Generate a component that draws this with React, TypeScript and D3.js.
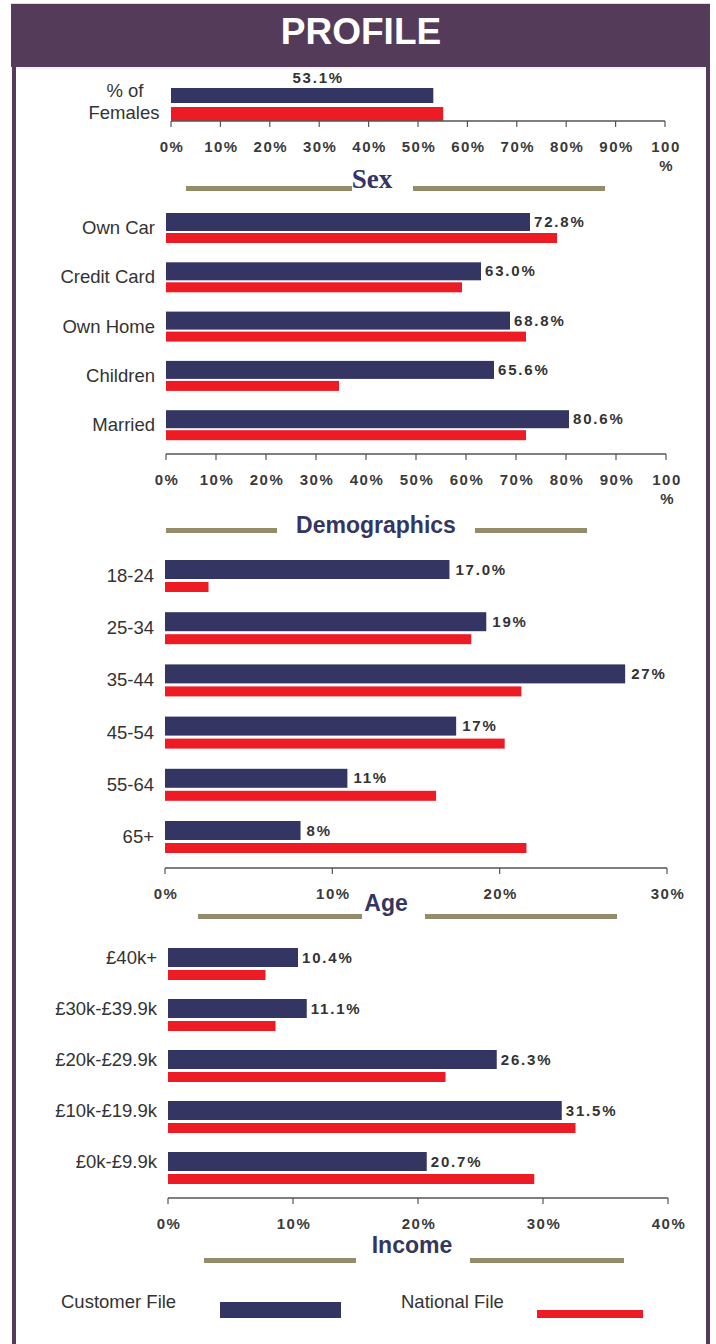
import React from 'react'
import * as d3 from 'd3'

const W = 716
const H = 1344
const navy = '#343563'
const red = '#ed1c24'
const plum = '#553b5a'
const khaki = '#948c6a'
const ink = '#333333'

// chart values
const sexCats = ['% of Females']
const sexCustomer = [53.1]
const sexNational = [55.1]
const sexLabels = ['53.1%']

const demoCats = ['Own Car', 'Credit Card', 'Own Home', 'Children', 'Married']
const demoCustomer = [72.8, 63.0, 68.8, 65.6, 80.6]
const demoNational = [78.2, 59.2, 72.0, 34.6, 72.0]
const demoLabels = ['72.8%', '63.0%', '68.8%', '65.6%', '80.6%']

const ageCats = ['18-24', '25-34', '35-44', '45-54', '55-64', '65+']
const ageCustomer = [17.0, 19.2, 27.5, 17.4, 10.9, 8.1]
const ageNational = [2.6, 18.3, 21.3, 20.3, 16.2, 21.6]
const ageLabels = ['17.0%', '19%', '27%', '17%', '11%', '8%']

const incomeCats = ['£40k+', '£30k-£39.9k', '£20k-£29.9k', '£10k-£19.9k', '£0k-£9.9k']
const incomeCustomer = [10.4, 11.1, 26.3, 31.5, 20.7]
const incomeNational = [7.8, 8.6, 22.2, 32.6, 29.3]
const incomeLabels = ['10.4%', '11.1%', '26.3%', '31.5%', '20.7%']

const pctTicks = [0, 10, 20, 30, 40, 50, 60, 70, 80, 90, 100]
const ageTicks = [0, 10, 20, 30]
const incomeTicks = [0, 10, 20, 30, 40]

const sans = 'Liberation Sans, Arial, sans-serif'

type ChartProps = {
  cats: string[]
  cust: number[]
  nat: number[]
  labels: string[]
  ticks: number[]
  x0: number
  x1: number
  top: number
  step: number
  blueH: number
  redH: number
  gap: number
  axisY: number
  labelMode: 'group' | 'blue'
  valueDx: number
}

const Axis = ({ x, y, ticks }: { x: d3.ScaleLinear<number, number>; y: number; ticks: number[] }) => (
  <g>
    <line x1={x.range()[0]} x2={x.range()[1]} y1={y} y2={y} stroke="#555" strokeWidth={1.3} />
    {ticks.map(t => (
      <g key={t} transform={`translate(${x(t)},${y})`}>
        <line y1={0} y2={6} stroke="#555" strokeWidth={1.2} />
        {t === 100 ? (
          <>
            <text y={31} textAnchor="middle" dx={1} fontFamily={sans} fontWeight="bold" fontSize={15} letterSpacing={1.5} fill="#3a3a3a">100</text>
            <text y={50} textAnchor="middle" dx={1} fontFamily={sans} fontWeight="bold" fontSize={15} fill="#3a3a3a">%</text>
          </>
        ) : (
          <text y={31} textAnchor="middle" dx={1} fontFamily={sans} fontWeight="bold" fontSize={15} letterSpacing={1.5} fill="#3a3a3a">{t + '%'}</text>
        )}
      </g>
    ))}
  </g>
)

const BarChart = (p: ChartProps) => {
  const max = p.ticks[p.ticks.length - 1]
  const x = d3.scaleLinear().domain([0, max]).range([p.x0, p.x1])
  const y = d3.scaleBand<string>().domain(p.cats).range([p.top, p.top + p.step * p.cats.length]).padding(0)
  return (
    <g>
      {p.cats.map((c, i) => {
        const by = y(c) as number
        const ry = by + p.blueH + p.gap
        const ly = p.labelMode === 'group' ? (by + ry + p.redH) / 2 : by + p.blueH / 2
        return (
          <g key={c}>
            <rect x={x(0)} y={by} width={x(p.cust[i]) - x(0)} height={p.blueH} fill={navy} />
            <rect x={x(0)} y={ry} width={x(p.nat[i]) - x(0)} height={p.redH} fill={red} />
            <text x={p.x0 - 11} y={ly + 6} textAnchor="end" fontFamily={sans} fontSize={18.5} fill={ink}>{c}</text>
            <text x={x(p.cust[i]) + p.valueDx} y={by + p.blueH / 2 + 5} fontFamily={sans} fontWeight="bold" fontSize={15} letterSpacing={1.8} fill={ink}>{p.labels[i]}</text>
          </g>
        )
      })}
      <Axis x={x} y={p.axisY} ticks={p.ticks} />
    </g>
  )
}

const Title = ({ text, cx, y, serif, left, right, lineY }: { text: string; cx: number; y: number; serif?: boolean; left: [number, number]; right: [number, number]; lineY: number }) => (
  <g>
    <line x1={left[0]} x2={left[1]} y1={lineY} y2={lineY} stroke={khaki} strokeWidth={5} />
    <line x1={right[0]} x2={right[1]} y1={lineY} y2={lineY} stroke={khaki} strokeWidth={5} />
    <text x={cx} y={y} textAnchor="middle" fill={navy} fontWeight="bold"
      fontFamily={serif ? 'Liberation Serif, Times New Roman, serif' : sans} fontSize={serif ? 27 : 23}>{text}</text>
  </g>
)

const SexChart = () => {
  const x = d3.scaleLinear().domain([0, 100]).range([171, 665])
  const y = d3.scaleBand<string>().domain(sexCats).range([88, 121]).padding(0)
  const by = y(sexCats[0]) as number
  return (
    <g>
      <rect x={x(0)} y={by} width={x(sexCustomer[0]) - x(0)} height={15} fill={navy} />
      <rect x={x(0)} y={by + 19} width={x(sexNational[0]) - x(0)} height={14} fill={red} />
      <text x={(x(0) + x(sexCustomer[0])) / 2 + 16} y={83} textAnchor="middle" fontFamily={sans} fontWeight="bold" fontSize={15} letterSpacing={1.8} fill={ink}>{sexLabels[0]}</text>
      <text textAnchor="middle" fontFamily={sans} fontSize={18.5} fill={ink}>
        <tspan x={125} y={97}>% of</tspan>
        <tspan x={124} y={119}>Females</tspan>
      </text>
      <Axis x={x} y={121} ticks={pctTicks} />
    </g>
  )
}

export default function App() {
  return (
    <div style={{ position: 'absolute', left: 0, top: 0, width: W, height: H, background: '#fff' }}>
      <svg width={W} height={H} style={{ display: 'block' }}>
        <rect x={0} y={0} width={W} height={H} fill="#fff" />
        {/* frame */}
        <line x1={11} x2={710} y1={3.5} y2={3.5} stroke="#dcdcdc" strokeWidth={1} />
        <rect x={11} y={4} width={699} height={63} fill={plum} />
        <line x1={16} x2={706} y1={68} y2={68} stroke="#e6e0e6" strokeWidth={1} />
        <rect x={12} y={67} width={4} height={H - 67} fill={plum} />
        <rect x={706} y={67} width={4} height={H - 67} fill={plum} />
        <text x={361} y={44} textAnchor="middle" fill="#fff" fontFamily={sans} fontWeight="bold" fontSize={37}>PROFILE</text>

        <SexChart />
        <Title text="Sex" cx={372} y={188} serif left={[186, 352]} right={[413, 605]} lineY={188.5} />

        <BarChart cats={demoCats} cust={demoCustomer} nat={demoNational} labels={demoLabels} ticks={pctTicks}
          x0={166} x1={666} top={213} step={49.3} blueH={18} redH={10} gap={2} axisY={454} labelMode="group" valueDx={4} />
        <Title text="Demographics" cx={376} y={533} left={[166, 277]} right={[475, 587]} lineY={530.5} />

        <BarChart cats={ageCats} cust={ageCustomer} nat={ageNational} labels={ageLabels} ticks={ageTicks}
          x0={165} x1={667} top={560} step={52.2} blueH={19} redH={10} gap={3} axisY={868} labelMode="group" valueDx={6} />
        <Title text="Age" cx={386} y={911} left={[198, 362]} right={[425, 617]} lineY={916.5} />

        <BarChart cats={incomeCats} cust={incomeCustomer} nat={incomeNational} labels={incomeLabels} ticks={incomeTicks}
          x0={168} x1={668} top={948} step={51} blueH={19} redH={10} gap={3} axisY={1198} labelMode="blue" valueDx={4} />
        <Title text="Income" cx={412} y={1253} left={[204, 356]} right={[470, 624]} lineY={1260.5} />

        {/* legend */}
        <text x={61} y={1308} fontFamily={sans} fontSize={18.5} fill={ink}>Customer File</text>
        <rect x={220} y={1302} width={121} height={16} fill={navy} />
        <text x={401} y={1308} fontFamily={sans} fontSize={18.5} fill={ink}>National File</text>
        <rect x={537} y={1310} width={106} height={8} fill={red} />
      </svg>
    </div>
  )
}
